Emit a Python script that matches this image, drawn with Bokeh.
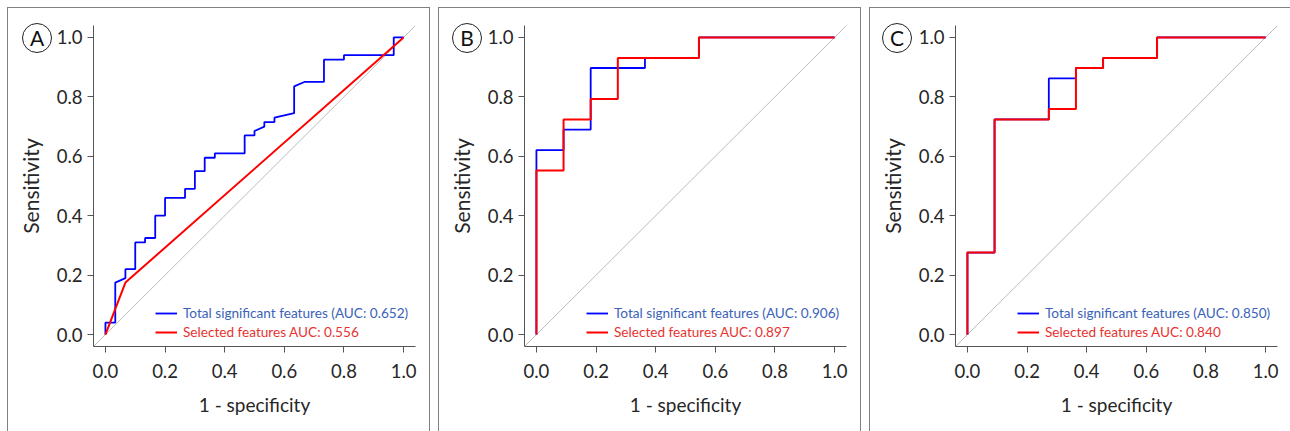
from bokeh.plotting import figure
from bokeh.models import (Range1d, FixedTicker, Slope, Legend, LegendItem, NumeralTickFormatter, Div)
from bokeh.layouts import row
from bokeh.embed import file_html
from bokeh.resources import INLINE

FONT = "Lato"

panel_letters = ["A", "B", "C"]
tick_values = [0.0, 0.2, 0.4, 0.6, 0.8, 1.0]
total_auc = ["0.652", "0.906", "0.850"]
selected_auc = ["0.556", "0.897", "0.840"]

# Panel A
a_total_fpr = [0, 0, 0.033, 0.033, 0.067, 0.067, 0.1, 0.1, 0.133, 0.133, 0.167, 0.167, 0.2, 0.2,
               0.267, 0.267, 0.3, 0.3, 0.333, 0.333, 0.367, 0.367, 0.467, 0.467, 0.5, 0.5, 0.533,
               0.533, 0.567, 0.567, 0.633, 0.633, 0.667, 0.733, 0.733, 0.8, 0.8, 0.967, 0.967, 1.0]
a_total_tpr = [0, 0.04, 0.04, 0.175, 0.19, 0.22, 0.22, 0.31, 0.31, 0.325, 0.325, 0.40, 0.40, 0.46,
               0.46, 0.49, 0.49, 0.55, 0.55, 0.595, 0.595, 0.61, 0.61, 0.67, 0.67, 0.685, 0.70,
               0.715, 0.715, 0.73, 0.745, 0.835, 0.85, 0.85, 0.925, 0.925, 0.94, 0.94, 1.0, 1.0]
a_sel_fpr = [0, 0.067, 1.0]
a_sel_tpr = [0, 0.175, 1.0]

# Panel B
b_total_fpr = [0, 0, 0.091, 0.091, 0.182, 0.182, 0.364, 0.364, 0.545, 0.545, 1.0]
b_total_tpr = [0, 0.621, 0.621, 0.690, 0.690, 0.897, 0.897, 0.931, 0.931, 1.0, 1.0]
b_sel_fpr = [0, 0, 0.091, 0.091, 0.182, 0.182, 0.273, 0.273, 0.545, 0.545, 1.0]
b_sel_tpr = [0, 0.552, 0.552, 0.724, 0.724, 0.793, 0.793, 0.931, 0.931, 1.0, 1.0]

# Panel C
c_total_fpr = [0, 0, 0.091, 0.091, 0.273, 0.273, 0.364, 0.364, 0.455, 0.455, 0.636, 0.636, 1.0]
c_total_tpr = [0, 0.276, 0.276, 0.724, 0.724, 0.862, 0.862, 0.897, 0.897, 0.931, 0.931, 1.0, 1.0]
c_sel_fpr = [0, 0, 0.091, 0.091, 0.273, 0.273, 0.364, 0.364, 0.455, 0.455, 0.636, 0.636, 1.0]
c_sel_tpr = [0, 0.276, 0.276, 0.724, 0.724, 0.759, 0.759, 0.897, 0.897, 0.931, 0.931, 1.0, 1.0]

MB_LEFT = 85
FRAME_W = 322
MB_TOP = 17
FRAME_H = 321
HEIGHT = 423
TEXT_COL = "#262626"


def make_panel(letter, tx, ty, sx, sy, auc_t, auc_s, width, margin_left):
    p = figure(width=width, height=HEIGHT, x_range=Range1d(-0.04, 1.04), y_range=Range1d(-0.04, 1.04),
               output_backend="svg", toolbar_location=None,
               min_border_left=MB_LEFT, min_border_right=width - MB_LEFT - FRAME_W,
               min_border_top=MB_TOP, min_border_bottom=HEIGHT - MB_TOP - FRAME_H,
               x_axis_label="1 - specificity", y_axis_label="Sensitivity")
    p.outline_line_color = None
    p.grid.visible = False
    p.styles = {"outline": "1px solid #808080", "margin-top": "8px",
                "margin-left": f"{margin_left}px", "flex": "none"}

    p.add_layout(Slope(gradient=1, y_intercept=0, line_color="#bcbcbc", line_width=1, level="underlay"))
    r1 = p.line(tx, ty, line_color="#0000ff", line_width=1.8)
    r2 = p.line(sx, sy, line_color="#ff0000", line_width=2.0)

    for ax in (p.xaxis[0], p.yaxis[0]):
        ax.ticker = FixedTicker(ticks=tick_values)
        ax.formatter = NumeralTickFormatter(format="0.0")
        ax.axis_line_color = "#555555"
        ax.major_tick_line_color = "#555555"
        ax.minor_tick_line_color = None
        ax.major_tick_out = 6
        ax.major_tick_in = 0
        ax.major_label_text_font = FONT
        ax.major_label_text_font_size = "18.5px"
        ax.major_label_text_color = TEXT_COL
        ax.axis_label_text_font = FONT
        ax.axis_label_text_font_style = "normal"
        ax.axis_label_text_color = TEXT_COL
    p.xaxis[0].axis_label_text_font_size = "19px"
    p.yaxis[0].axis_label_text_font_size = "21px"
    p.yaxis[0].major_label_standoff = 5
    p.yaxis[0].axis_label_standoff = 11
    p.xaxis[0].major_label_standoff = 11
    p.xaxis[0].axis_label_standoff = 12

    leg1 = Legend(items=[LegendItem(label=f"Total significant features (AUC: {auc_t})", renderers=[r1])],
                  location=(62, 25))
    leg2 = Legend(items=[LegendItem(label=f"Selected features AUC: {auc_s}", renderers=[r2])],
                  location=(62, 6))
    for leg, col in ((leg1, "#3a62b8"), (leg2, "#e8322f")):
        leg.border_line_color = None
        leg.background_fill_alpha = 0
        leg.padding = 0
        leg.margin = 0
        leg.spacing = 0
        leg.glyph_width = 22
        leg.glyph_height = 14
        leg.label_height = 14
        leg.label_standoff = 6
        leg.label_text_font = FONT
        leg.label_text_font_size = "13.6px"
        leg.label_text_color = col
        p.add_layout(leg)
    return p


def make_letter(letter, left):
    return Div(text=letter, width=30, height=30, margin=0,
               styles={"position": "absolute", "left": f"{left}px", "top": "23px",
                       "width": "30px", "height": "30px", "box-sizing": "border-box",
                       "border": "1px solid #222222", "border-radius": "50%", "padding": "0",
                       "margin": "0", "font-family": FONT, "font-size": "21px",
                       "line-height": "28px", "text-align": "center", "color": "#111111",
                       "background": "white", "overflow": "hidden"})


pa = make_panel(panel_letters[0], a_total_fpr, a_total_tpr, a_sel_fpr, a_sel_tpr, total_auc[0], selected_auc[0], 421, 8)
pb = make_panel(panel_letters[1], b_total_fpr, b_total_tpr, b_sel_fpr, b_sel_tpr, total_auc[1], selected_auc[1], 421, 10)
pc = make_panel(panel_letters[2], c_total_fpr, c_total_tpr, c_sel_fpr, c_sel_tpr, total_auc[2], selected_auc[2], 420, 10)

letters = [make_letter(l, x) for l, x in zip(panel_letters, [22, 452, 882])]

layout = row(pa, pb, pc, *letters, spacing=0, styles={"position": "relative"})
open("out.html", "w").write(file_html(layout, INLINE))
